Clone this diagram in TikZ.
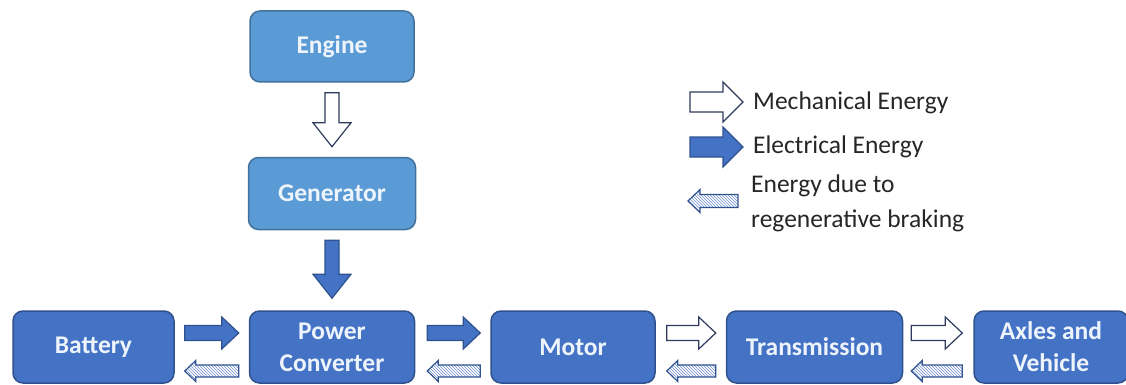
\documentclass[tikz,border=0pt]{standalone}
\usepackage{fontspec}
\setmainfont{Carlito}
\usepackage{tikz}
\usetikzlibrary{positioning,calc,patterns}
\definecolor{genfill}{HTML}{5B9BD5}
\definecolor{genline}{HTML}{41719C}
\definecolor{drvfill}{HTML}{4472C4}
\definecolor{drvline}{HTML}{2F528F}
\definecolor{mechline}{HTML}{2E3B5C}
\definecolor{hatch}{HTML}{6F8FCF}
\definecolor{boxtext}{HTML}{EEF4FC}
\definecolor{legtext}{HTML}{262626}

\begin{document}
\begin{tikzpicture}[
  x=1pt, y=1pt,
  font=\fontsize{25.5}{35}\selectfont,
  unit/.style={draw=drvline, fill=drvfill, line width=1.5pt, rounded corners=10pt,
               text=boxtext, font=\fontsize{25.5}{32}\selectfont\bfseries, align=center,
               minimum height=72pt, minimum width=164pt, inner sep=2pt},
  source/.style={unit, draw=genline, fill=genfill},
  legend/.style={text=legtext, inner sep=0pt, align=left},
  blockarrow/.style n args={3}{line width=1.2pt, to path={
      ($(\tikztostart)!#1!90:(\tikztotarget)$)
      -- ($(\tikztotarget)!#3!(\tikztostart)!#1!-90:(\tikztostart)$)
      -- ($(\tikztotarget)!#3!(\tikztostart)!#2!-90:(\tikztostart)$)
      -- (\tikztotarget)
      -- ($(\tikztotarget)!#3!(\tikztostart)!#2!90:(\tikztostart)$)
      -- ($(\tikztotarget)!#3!(\tikztostart)!#1!90:(\tikztostart)$)
      -- ($(\tikztostart)!#1!-90:(\tikztotarget)$) -- cycle}},
  fwd/.style={blockarrow={7.5pt}{16pt}{17pt}},
  back/.style={blockarrow={6pt}{10.5pt}{11pt}},
  downward/.style={blockarrow={7pt}{19pt}{24pt}},
  key/.style={blockarrow={10pt}{20pt}{20pt}},
  keyback/.style={blockarrow={6.5pt}{11.5pt}{12pt}},
  mech/.style={draw=mechline, fill=white},
  elec/.style={draw=drvline, fill=drvfill},
  regen/.style={draw=drvline, preaction={fill=white}, pattern=north west lines,
                pattern color=hatch},
]
\useasboundingbox (0,0) rectangle (1126,-385);

\node[unit, minimum width=161pt] (bat) at (93.5,-347) {Battery};
\node[unit, minimum width=165pt, right=74pt of bat] (pc) {Power\\Converter};
\node[unit, right=75pt of pc] (motor) {Motor};
\node[unit, minimum width=176pt, right=70pt of motor] (trans) {Transmission};
\node[unit, minimum width=154pt, right=70pt of trans] (axle) {Axles and\\Vehicle};
\node[source, minimum width=167pt, above=80pt of pc] (gen) {Generator};
\node[source, minimum width=164pt, minimum height=71pt, above=74pt of gen] (engine) {Engine};

\node[legend, anchor=base west] (lmech) at (753,-110) {Mechanical Energy};
\node[legend, anchor=base west] (lelec) at (753,-153) {Electrical Energy};
\node[legend, anchor=west] (lregen) at (751,-203) {Energy due to\\regenerative braking};

\draw[mech, downward] ([yshift=-10pt]engine.south) to ([yshift=10pt]gen.north);
\draw[elec, downward] ([yshift=-10pt]gen.south) to ([yshift=12pt]pc.north);

\draw[elec, fwd] ([xshift=10pt,yshift=14pt]bat.east) to ([xshift=-10pt,yshift=14pt]pc.west);
\draw[elec, fwd] ([xshift=12pt,yshift=14pt]pc.east) to ([xshift=-10pt,yshift=14pt]motor.west);
\draw[mech, fwd] ([xshift=11pt,yshift=14pt]motor.east) to ([xshift=-10pt,yshift=14pt]trans.west);
\draw[mech, fwd] ([xshift=8pt,yshift=14pt]trans.east) to ([xshift=-11pt,yshift=14pt]axle.west);

\draw[regen, back] ([xshift=-10pt,yshift=-24pt]pc.west) to ([xshift=10pt,yshift=-24pt]bat.east);
\draw[regen, back] ([xshift=-10pt,yshift=-24pt]motor.west) to ([xshift=12pt,yshift=-24pt]pc.east);
\draw[regen, back] ([xshift=-10pt,yshift=-24pt]trans.west) to ([xshift=11pt,yshift=-24pt]motor.east);
\draw[regen, back] ([xshift=-11pt,yshift=-24pt]axle.west) to ([xshift=8pt,yshift=-24pt]trans.east);

\draw[mech, key] ([xshift=-63pt,yshift=8pt]lmech.base west) to ([xshift=-10pt,yshift=8pt]lmech.base west);
\draw[elec, key] ([xshift=-63pt,yshift=6pt]lelec.base west) to ([xshift=-10pt,yshift=6pt]lelec.base west);
\draw[regen, keyback] ([xshift=-13pt,yshift=2pt]lregen.west) to ([xshift=-63pt,yshift=2pt]lregen.west);
\end{tikzpicture}
\end{document}
